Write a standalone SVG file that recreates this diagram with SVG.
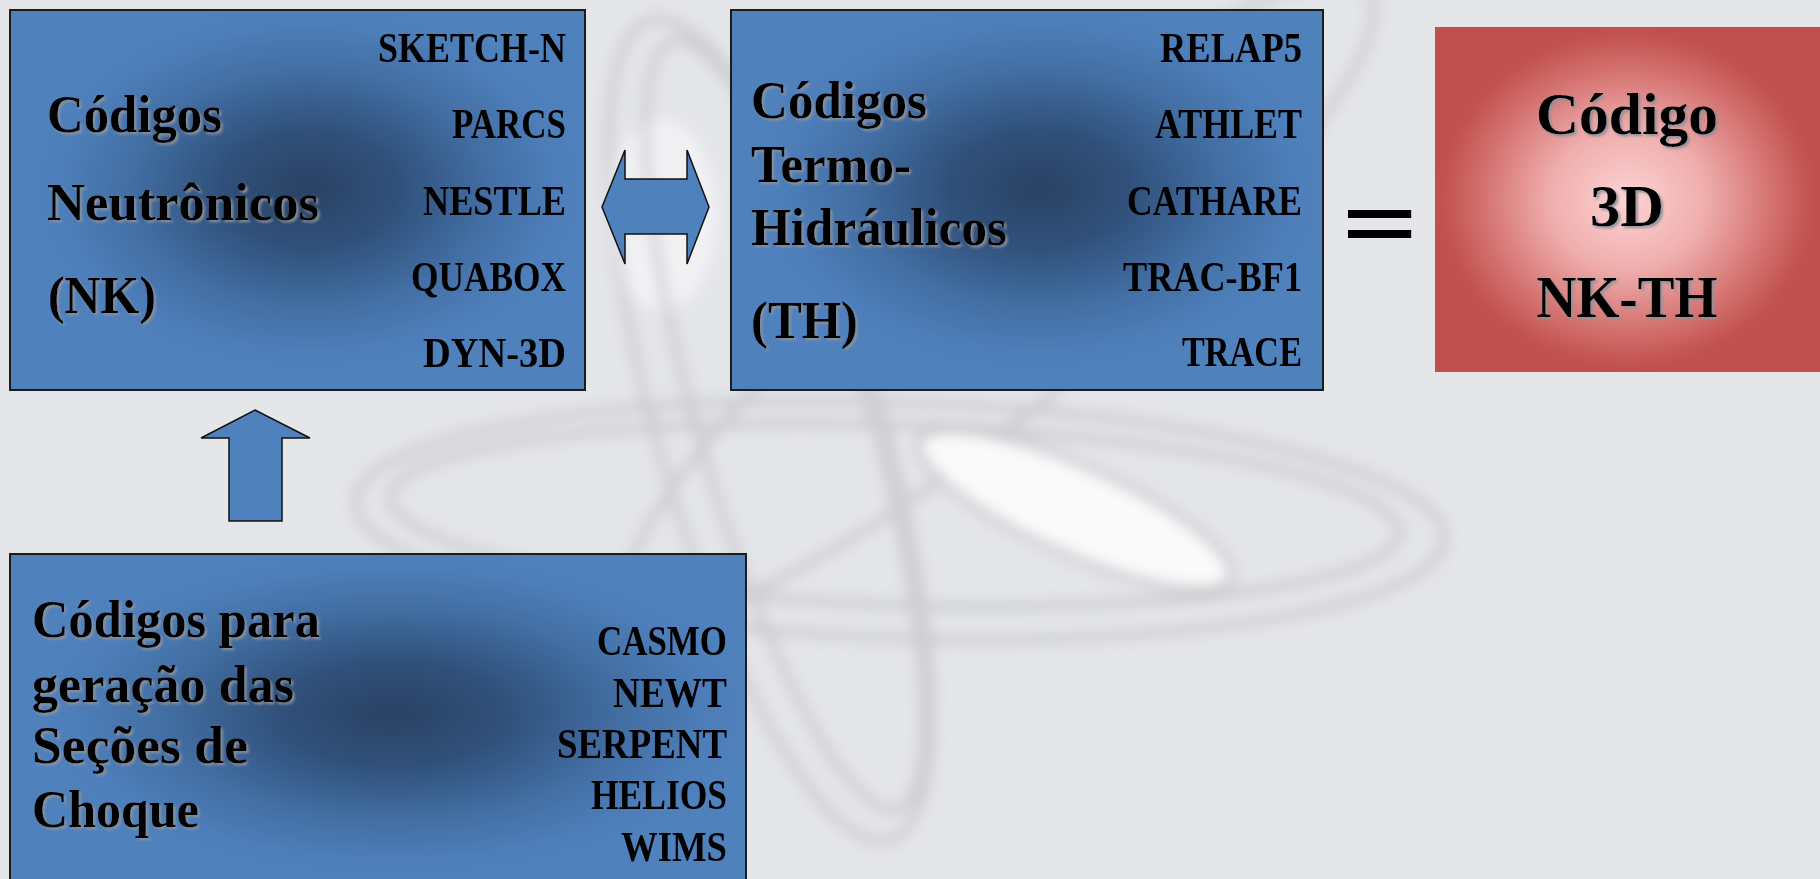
<svg xmlns="http://www.w3.org/2000/svg" width="1820" height="879" viewBox="0 0 1820 879">
  <defs>
    <!-- blue boxes: shaded from the centre outwards -->
    <radialGradient id="blueShade" cx="0.52" cy="0.47" r="0.5">
      <stop offset="0" stop-color="#2a4264"/>
      <stop offset="0.3" stop-color="#30507a"/>
      <stop offset="0.62" stop-color="#426ea3"/>
      <stop offset="0.86" stop-color="#4d7eb9"/>
      <stop offset="1" stop-color="#4f81bd"/>
    </radialGradient>
    <radialGradient id="redShade" cx="0.5" cy="0.5" r="0.5">
      <stop offset="0" stop-color="#fdd3d3"/>
      <stop offset="0.4" stop-color="#f0aeae"/>
      <stop offset="0.75" stop-color="#d47270"/>
      <stop offset="0.95" stop-color="#c2534f"/>
      <stop offset="1" stop-color="#c0504d"/>
    </radialGradient>
    <filter id="txtShadow" x="-10%" y="-20%" width="130%" height="150%">
      <feDropShadow dx="2.2" dy="2.2" stdDeviation="1.1" flood-color="#8c929b" flood-opacity="0.9"/>
    </filter>
    <filter id="soft" x="-20%" y="-20%" width="140%" height="140%">
      <feGaussianBlur stdDeviation="7"/>
    </filter>
  </defs>
  <style>
    .box { stroke: #1c1c1c; stroke-width: 2; }
    .lbl { font-family: "Liberation Serif", "DejaVu Serif", serif; font-weight: bold; fill: #000; }
    .big { font-size: 52px; filter: url(#txtShadow); }
    .title { font-size: 60px; text-anchor: middle; filter: url(#txtShadow); }
    .code { font-size: 43px; text-anchor: end; }
    .arrow { fill: #4f81bd; stroke: #111; stroke-width: 1.5; stroke-linejoin: miter; }
  </style>

  <!-- page background with a faint atom emblem -->
  <rect width="1820" height="879" fill="#e5e6ea"/>
  <g id="emblem" filter="url(#soft)">
    <ellipse cx="662" cy="215" rx="55" ry="95" fill="#f4f4f6" opacity="0.8"/>
    <g fill="none" stroke="#b4b5b9" stroke-width="9" opacity="0.5">
      <ellipse cx="900" cy="520" rx="545" ry="118" transform="rotate(2 900 520)"/>
      <ellipse cx="895" cy="515" rx="505" ry="90" transform="rotate(2 895 515)"/>
      <ellipse cx="770" cy="430" rx="427" ry="112" transform="rotate(73.7 770 430)"/>
      <ellipse cx="785" cy="425" rx="400" ry="86" transform="rotate(73.7 785 425)"/>
      <ellipse cx="1000" cy="300" rx="480" ry="105" transform="rotate(-40 1000 300)"/>
    </g>
    <ellipse cx="1075" cy="510" rx="170" ry="44" transform="rotate(24 1075 510)" fill="#fafafb" stroke="#b8b9bd" stroke-width="8" stroke-opacity="0.7"/>
  </g>

  <!-- neutronics codes -->
  <g id="node-nk">
    <rect class="box" x="10" y="10" width="575" height="380" fill="url(#blueShade)"/>
    <text class="lbl big" x="47" y="132" textLength="175" lengthAdjust="spacingAndGlyphs">Códigos</text>
    <text class="lbl big" x="47" y="220" textLength="272" lengthAdjust="spacingAndGlyphs">Neutrônicos</text>
    <text class="lbl big" x="48" y="313" textLength="108" lengthAdjust="spacingAndGlyphs">(NK)</text>
    <text class="lbl code" x="566" y="62" textLength="188" lengthAdjust="spacingAndGlyphs">SKETCH-N</text>
    <text class="lbl code" x="566" y="138" textLength="114" lengthAdjust="spacingAndGlyphs">PARCS</text>
    <text class="lbl code" x="566" y="215" textLength="143" lengthAdjust="spacingAndGlyphs">NESTLE</text>
    <text class="lbl code" x="566" y="291" textLength="155" lengthAdjust="spacingAndGlyphs">QUABOX</text>
    <text class="lbl code" x="566" y="367" textLength="143" lengthAdjust="spacingAndGlyphs">DYN-3D</text>
  </g>

  <!-- thermal-hydraulics codes -->
  <g id="node-th">
    <rect class="box" x="731" y="10" width="592" height="380" fill="url(#blueShade)"/>
    <text class="lbl big" x="751" y="118" textLength="176" lengthAdjust="spacingAndGlyphs">Códigos</text>
    <text class="lbl big" x="751" y="182" textLength="160" lengthAdjust="spacingAndGlyphs">Termo-</text>
    <text class="lbl big" x="751" y="245" textLength="256" lengthAdjust="spacingAndGlyphs">Hidráulicos</text>
    <text class="lbl big" x="751" y="338" textLength="107" lengthAdjust="spacingAndGlyphs">(TH)</text>
    <text class="lbl code" x="1302" y="62" textLength="142" lengthAdjust="spacingAndGlyphs">RELAP5</text>
    <text class="lbl code" x="1302" y="138" textLength="147" lengthAdjust="spacingAndGlyphs">ATHLET</text>
    <text class="lbl code" x="1302" y="215" textLength="175" lengthAdjust="spacingAndGlyphs">CATHARE</text>
    <text class="lbl code" x="1302" y="291" textLength="179" lengthAdjust="spacingAndGlyphs">TRAC-BF1</text>
    <text class="lbl code" x="1302" y="366" textLength="120" lengthAdjust="spacingAndGlyphs">TRACE</text>
  </g>

  <!-- coupled result -->
  <g id="node-nkth">
    <rect x="1435" y="27" width="385" height="345" fill="url(#redShade)"/>
    <text class="lbl title" x="1627" y="134" textLength="182" lengthAdjust="spacingAndGlyphs">Código</text>
    <text class="lbl title" x="1627" y="226" textLength="74" lengthAdjust="spacingAndGlyphs">3D</text>
    <text class="lbl title" x="1627" y="317" textLength="181" lengthAdjust="spacingAndGlyphs">NK-TH</text>
  </g>

  <!-- cross-section generation codes -->
  <g id="node-xs">
    <rect class="box" x="10" y="554" width="736" height="340" fill="url(#blueShade)"/>
    <text class="lbl big" x="32" y="637" textLength="288" lengthAdjust="spacingAndGlyphs">Códigos para</text>
    <text class="lbl big" x="32" y="702" textLength="262" lengthAdjust="spacingAndGlyphs">geração das</text>
    <text class="lbl big" x="32" y="763" textLength="216" lengthAdjust="spacingAndGlyphs">Seções de</text>
    <text class="lbl big" x="32" y="827" textLength="167" lengthAdjust="spacingAndGlyphs">Choque</text>
    <text class="lbl code" x="727" y="655" textLength="130" lengthAdjust="spacingAndGlyphs">CASMO</text>
    <text class="lbl code" x="727" y="707" textLength="114" lengthAdjust="spacingAndGlyphs">NEWT</text>
    <text class="lbl code" x="727" y="758" textLength="170" lengthAdjust="spacingAndGlyphs">SERPENT</text>
    <text class="lbl code" x="727" y="809" textLength="136" lengthAdjust="spacingAndGlyphs">HELIOS</text>
    <text class="lbl code" x="727" y="861" textLength="106" lengthAdjust="spacingAndGlyphs">WIMS</text>
  </g>

  <!-- block arrows between the boxes -->
  <g id="connectors">
    <polygon class="arrow" points="602,207 625,150 625,179 687,179 687,150 709,207 687,264 687,234 625,234 625,264"/>
    <polygon class="arrow" points="255,410 310,438 282,438 282,521 229,521 229,438 201,438"/>
  </g>

  <g id="equals">
    <text transform="translate(1379.5 248.5) scale(1 0.595)" x="0" y="0" text-anchor="middle" font-family="Liberation Sans, Arial, sans-serif" font-weight="bold" font-size="126" fill="#000">=</text>
  </g>
</svg>
